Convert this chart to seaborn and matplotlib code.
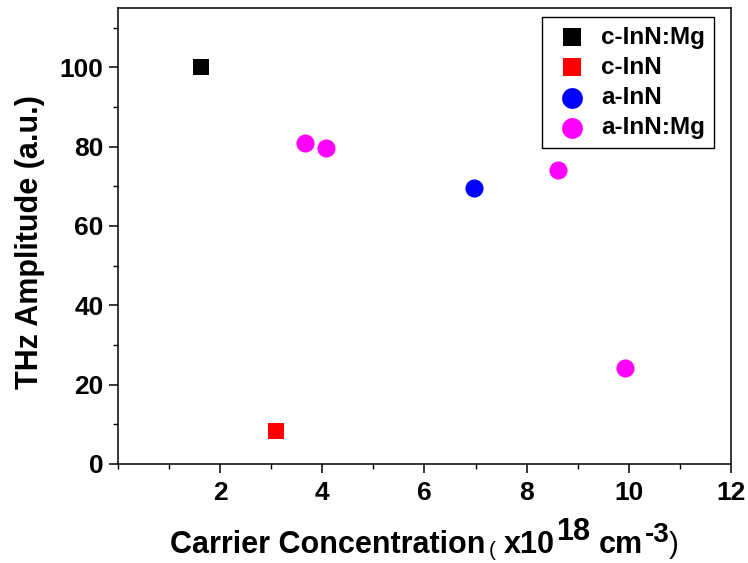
import matplotlib
matplotlib.use("Agg")
import matplotlib.pyplot as plt
from matplotlib.ticker import MultipleLocator
import seaborn as sns
import pandas as pd

# Carrier concentration (x10^18 cm^-3) and THz amplitude (a.u.) per sample
samples = ["c-InN:Mg", "c-InN", "a-InN", "a-InN:Mg"]
conc_c_inn_mg = [1.62]
amp_c_inn_mg = [100.0]
conc_c_inn = [3.09]
amp_c_inn = [8.3]
conc_a_inn = [6.97]
amp_a_inn = [69.7]
conc_a_inn_mg = [3.65, 4.08, 8.61, 9.92]
amp_a_inn_mg = [80.9, 79.6, 74.0, 24.3]

colors = {"c-InN:Mg": "#000000", "c-InN": "#ff0000",
          "a-InN": "#0000ff", "a-InN:Mg": "#ff00ff"}
markers = {"c-InN:Mg": "s", "c-InN": "s", "a-InN": "o", "a-InN:Mg": "o"}
sizes = {"s": 135, "o": 170}

df = pd.concat([
    pd.DataFrame({"conc": conc_c_inn_mg, "amp": amp_c_inn_mg, "sample": "c-InN:Mg"}),
    pd.DataFrame({"conc": conc_c_inn, "amp": amp_c_inn, "sample": "c-InN"}),
    pd.DataFrame({"conc": conc_a_inn, "amp": amp_a_inn, "sample": "a-InN"}),
    pd.DataFrame({"conc": conc_a_inn_mg, "amp": amp_a_inn_mg, "sample": "a-InN:Mg"}),
], ignore_index=True)

sns.set_style("ticks")
plt.rcParams["font.family"] = ["Liberation Sans", "DejaVu Sans"]
plt.rcParams["font.weight"] = "bold"
plt.rcParams["text.color"] = "black"
plt.rcParams["axes.labelcolor"] = "black"
plt.rcParams["xtick.color"] = "black"
plt.rcParams["ytick.color"] = "black"

fig = plt.figure(figsize=(7.48, 5.63), dpi=100)
ax = fig.add_axes([0.158, 0.176, 0.819, 0.810])

for name in samples:
    sub = df[df["sample"] == name]
    m = markers[name]
    sns.scatterplot(data=sub, x="conc", y="amp", ax=ax, color=colors[name],
                    marker=m, s=sizes[m], linewidth=0, label=name)

ax.set_xlim(0, 12)
ax.set_ylim(0, 115)
ax.set_xticks([2, 4, 6, 8, 10, 12])
ax.xaxis.set_minor_locator(MultipleLocator(1))
ax.set_yticks([0, 20, 40, 60, 80, 100])
ax.yaxis.set_minor_locator(MultipleLocator(10))

for side in ["left", "right", "top", "bottom"]:
    ax.spines[side].set_visible(True)
    ax.spines[side].set_linewidth(1.1)
    ax.spines[side].set_color("black")

ax.tick_params(which="major", direction="out", length=6.5, width=1.1,
               labelsize=19, pad=4, color="black", labelcolor="black")
ax.tick_params(axis="x", which="major", pad=5.5)
ax.tick_params(which="minor", direction="out", length=3.5, width=1.0, color="black")
for lab in ax.get_xticklabels() + ax.get_yticklabels():
    lab.set_fontweight("bold")

ax.set_xlabel("")
ax.set_ylabel("THz Amplitude (a.u.)", fontsize=22, fontweight="bold", color="black")
ax.yaxis.set_label_coords(-0.119, 0.486)

# x-axis title assembled piece by piece so the exponents keep full size
baseline = 10 / 563
pieces = [
    # text, size, weight, gap (pt), rise (pt)
    ("Carrier Concentration", 22, "bold", 0, 0),
    ("(", 15, "normal", 2.5, -2.5),
    ("x10", 22, "bold", 5.5, 0),
    ("18", 22, "bold", 1.0, 9.4),
    ("cm", 22, "bold", 6.5, 0),
    ("-3", 20, "bold", 1.0, 8.0),
    (")", 21, "normal", 0.0, 0),
]
label_parts = []
first = fig.text(0.2, baseline, pieces[0][0], fontsize=pieces[0][1],
                 fontweight=pieces[0][2], va="baseline", ha="left", color="black")
label_parts.append(first)
prev = first
for text, size, weight, gap, rise in pieces[1:]:
    t = ax.annotate(text, xy=(1, baseline), xycoords=(prev, "figure fraction"),
                    xytext=(gap, rise), textcoords="offset points",
                    fontsize=size, fontweight=weight, va="baseline", ha="left",
                    color="black", annotation_clip=False)
    label_parts.append(t)
    prev = t

leg = ax.legend(loc="upper right", bbox_to_anchor=(0.972, 0.98), borderaxespad=0,
                frameon=True, fancybox=False, edgecolor="black", framealpha=1,
                prop={"weight": "bold", "size": 17.5}, handletextpad=0.3,
                labelspacing=0.3, borderpad=0.35, handlelength=1.8,
                markerscale=1.15)
leg.get_frame().set_linewidth(1.0)
for t in leg.get_texts():
    t.set_color("black")

# centre the assembled x title under the axes
fig.canvas.draw()
r = fig.canvas.get_renderer()
x_left = min(p.get_window_extent(r).x0 for p in label_parts)
x_right = max(p.get_window_extent(r).x1 for p in label_parts)
ax_bb = ax.get_window_extent(r)
shift = (ax_bb.x0 + ax_bb.x1) / 2 - (x_left + x_right) / 2
W = fig.bbox.width
first.set_x(first.get_position()[0] + shift / W)

fig.savefig("out.png", dpi=100, facecolor="white")
